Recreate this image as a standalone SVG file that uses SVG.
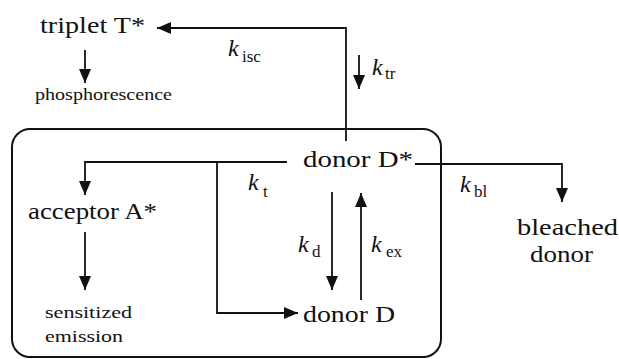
<svg xmlns="http://www.w3.org/2000/svg" width="619" height="359" viewBox="0 0 619 359">
<style>
.lbl{font-family:"Liberation Serif","Times New Roman",serif;font-size:23px;fill:#111}
.sm{font-family:"Liberation Serif","Times New Roman",serif;font-size:16px;fill:#111}
.k{font-family:"Liberation Serif","Times New Roman",serif;font-size:24px;font-style:italic;fill:#111}
.sub{font-family:"Liberation Serif","Times New Roman",serif;font-size:17px;fill:#111}
.arr{fill:none;stroke:#111;stroke-width:1.8;marker-end:url(#ah)}
</style>
<defs>
<marker id="ah" markerUnits="userSpaceOnUse" markerWidth="14" markerHeight="12" refX="14" refY="6" orient="auto">
<path d="M0,0 L14,6 L0,12 z" fill="#111"/>
</marker>
</defs>
<rect width="619" height="359" fill="#fff"/>
<rect id="box" x="12" y="129" width="429" height="228" rx="18" ry="18" fill="none" stroke="#111" stroke-width="2"/>
<g id="connectors">
<path class="arr" d="M346,141 V28 H157"/>
<path class="arr" d="M359,55 V89"/>
<path class="arr" d="M85,50 V83"/>
<path class="arr" d="M287,162 H85 V195"/>
<path class="arr" d="M217,162 V313 H298"/>
<path class="arr" d="M332,192 V290"/>
<path class="arr" d="M361,300 V193"/>
<path class="arr" d="M85,232 V290"/>
<path class="arr" d="M415,164 H562 V202"/>
</g>
<g id="triplet"><text class="lbl" x="40" y="33" textLength="105" lengthAdjust="spacingAndGlyphs">triplet T*</text></g>
<g id="phosphorescence"><text class="sm" x="35" y="100" textLength="137" lengthAdjust="spacingAndGlyphs">phosphorescence</text></g>
<g id="donorDstar"><text class="lbl" x="303" y="167" textLength="110" lengthAdjust="spacingAndGlyphs">donor D*</text></g>
<g id="acceptor"><text class="lbl" x="28" y="219" textLength="129" lengthAdjust="spacingAndGlyphs">acceptor A*</text></g>
<g id="sensitized"><text class="sm" x="45" y="318" textLength="87" lengthAdjust="spacingAndGlyphs">sensitized</text><text class="sm" x="45" y="342" textLength="78" lengthAdjust="spacingAndGlyphs">emission</text></g>
<g id="donorD"><text class="lbl" x="303" y="322" textLength="92" lengthAdjust="spacingAndGlyphs">donor D</text></g>
<g id="bleached"><text class="lbl" x="517" y="235" textLength="101" lengthAdjust="spacingAndGlyphs">bleached</text><text class="lbl" x="530" y="262" textLength="63" lengthAdjust="spacingAndGlyphs">donor</text></g>
<g id="labels">
<text x="228" y="56"><tspan class="k">k</tspan><tspan class="sub" x="242" y="62">isc</tspan></text>
<text x="372" y="75"><tspan class="k">k</tspan><tspan class="sub" x="385" y="79">tr</tspan></text>
<text x="248" y="190"><tspan class="k">k</tspan><tspan class="sub" x="263" y="197">t</tspan></text>
<text x="298" y="252"><tspan class="k">k</tspan><tspan class="sub" x="312" y="257">d</tspan></text>
<text x="371" y="252"><tspan class="k">k</tspan><tspan class="sub" x="386" y="257">ex</tspan></text>
<text x="460" y="192"><tspan class="k">k</tspan><tspan class="sub" x="474" y="197">bl</tspan></text>
</g>
</svg>
